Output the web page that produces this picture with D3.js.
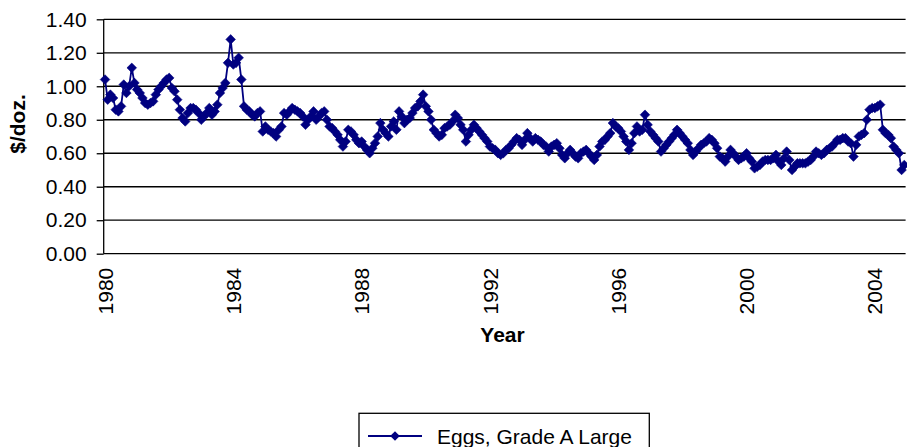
<!DOCTYPE html>
<html>
<head>
<meta charset="utf-8">
<script src="https://cdn.jsdelivr.net/npm/d3@7/dist/d3.min.js"></script>
<style>
  html, body { margin: 0; padding: 0; background: #fff; }
  svg { display: block; font-family: "Liberation Sans", Arial, sans-serif; }
</style>
</head>
<body>
<svg id="chart" width="907" height="447"></svg>
<script>
// ---- data ----
const startYear = 1980;
const endYear = 2004;
const seriesName = "Eggs, Grade A Large";
const tickLabels = ["1980", "1984", "1988", "1992", "1996", "2000", "2004"];
const yTicks = [0, 0.2, 0.4, 0.6, 0.8, 1.0, 1.2, 1.4];

// monthly average price, $/dozen, Jan 1980 - Dec 2004
const eggPrices = [
  1.04, 0.92, 0.95, 0.93, 0.86, 0.85, 0.88, 1.01, 0.96, 1.00, 1.11, 1.02, // 1980
  0.98, 0.96, 0.93, 0.90, 0.89, 0.90, 0.91, 0.95, 0.98, 1.00, 1.02, 1.04, // 1981
  1.05, 0.99, 0.97, 0.92, 0.86, 0.81, 0.79, 0.84, 0.87, 0.87, 0.86, 0.84, // 1982
  0.80, 0.82, 0.84, 0.87, 0.83, 0.85, 0.89, 0.96, 0.99, 1.02, 1.14, 1.28, // 1983
  1.13, 1.14, 1.17, 1.04, 0.88, 0.86, 0.85, 0.83, 0.82, 0.84, 0.85, 0.73, // 1984
  0.76, 0.74, 0.73, 0.72, 0.70, 0.74, 0.76, 0.84, 0.83, 0.85, 0.87, 0.86, // 1985
  0.85, 0.84, 0.82, 0.77, 0.80, 0.82, 0.85, 0.80, 0.82, 0.84, 0.85, 0.80, // 1986
  0.76, 0.75, 0.73, 0.71, 0.68, 0.64, 0.67, 0.74, 0.73, 0.71, 0.68, 0.66, // 1987
  0.67, 0.64, 0.62, 0.60, 0.63, 0.66, 0.70, 0.78, 0.74, 0.72, 0.70, 0.76, // 1988
  0.79, 0.74, 0.85, 0.82, 0.78, 0.80, 0.81, 0.84, 0.87, 0.88, 0.91, 0.95, // 1989
  0.88, 0.85, 0.80, 0.74, 0.72, 0.70, 0.71, 0.75, 0.76, 0.77, 0.79, 0.83, // 1990
  0.81, 0.77, 0.74, 0.67, 0.71, 0.74, 0.77, 0.75, 0.73, 0.71, 0.69, 0.67, // 1991
  0.64, 0.63, 0.62, 0.60, 0.59, 0.60, 0.62, 0.63, 0.65, 0.67, 0.69, 0.68, // 1992
  0.65, 0.68, 0.72, 0.69, 0.67, 0.69, 0.68, 0.67, 0.65, 0.64, 0.61, 0.64, // 1993
  0.65, 0.66, 0.63, 0.59, 0.57, 0.60, 0.62, 0.60, 0.58, 0.57, 0.60, 0.61, // 1994
  0.62, 0.60, 0.58, 0.56, 0.59, 0.64, 0.67, 0.68, 0.70, 0.72, 0.78, 0.76, // 1995
  0.75, 0.73, 0.70, 0.67, 0.62, 0.66, 0.72, 0.76, 0.73, 0.74, 0.83, 0.77, // 1996
  0.73, 0.71, 0.69, 0.67, 0.61, 0.63, 0.65, 0.67, 0.69, 0.71, 0.74, 0.72, // 1997
  0.70, 0.68, 0.66, 0.62, 0.59, 0.61, 0.63, 0.65, 0.66, 0.67, 0.69, 0.68, // 1998
  0.66, 0.63, 0.58, 0.57, 0.55, 0.58, 0.62, 0.60, 0.58, 0.56, 0.57, 0.58, // 1999
  0.60, 0.57, 0.55, 0.51, 0.52, 0.53, 0.55, 0.56, 0.56, 0.56, 0.57, 0.59, // 2000
  0.55, 0.53, 0.57, 0.61, 0.56, 0.50, 0.52, 0.54, 0.54, 0.54, 0.54, 0.55, // 2001
  0.56, 0.58, 0.61, 0.60, 0.59, 0.60, 0.62, 0.63, 0.64, 0.66, 0.68, 0.68, // 2002
  0.69, 0.69, 0.67, 0.66, 0.58, 0.65, 0.70, 0.71, 0.72, 0.80, 0.86, 0.87, // 2003
  0.87, 0.88, 0.89, 0.74, 0.72, 0.71, 0.69, 0.64, 0.62, 0.60, 0.50, 0.53  // 2004
];

// categories: one per month
const categories = [];
for (let y = startYear; y <= endYear; y++) {
  for (let m = 1; m <= 12; m++) categories.push(y + "-" + String(m).padStart(2, "0"));
}
const data = categories.map((c, i) => ({ cat: c, value: eggPrices[i] }));

// ---- layout ----
const svg = d3.select("#chart");
const plot = { left: 103.7, right: 905.6, top: 19.3, bottom: 253.7 };
const navy = "#000080";

const x = d3.scaleBand().domain(categories).range([plot.left, plot.right]).padding(0);
const y = d3.scaleLinear().domain([0, 1.4]).range([plot.bottom, plot.top]);
const cx = c => x(c) + x.bandwidth() / 2;

svg.append("rect").attr("width", 907).attr("height", 447).attr("fill", "#fff");

// gridlines
svg.append("g")
  .selectAll("line")
  .data(yTicks.filter(d => d > 0))
  .join("line")
  .attr("x1", plot.left).attr("x2", plot.right)
  .attr("y1", d => y(d)).attr("y2", d => y(d))
  .attr("stroke", "#000").attr("stroke-width", 1.3);

// y axis
const yAxis = d3.axisLeft(y).tickValues(yTicks).tickFormat(d3.format(".2f")).tickSize(7).tickPadding(10);
const gy = svg.append("g").attr("transform", `translate(${plot.left},0)`).call(yAxis);
gy.select(".domain").attr("stroke", "#000").attr("stroke-width", 1.3).attr("d", `M0,${plot.bottom}V${plot.top}`);
gy.selectAll(".tick line").attr("stroke", "#000").attr("stroke-width", 1.3);
gy.selectAll(".tick text").attr("font-size", 21).attr("fill", "#000")
  .attr("font-family", "'Liberation Sans', Arial, sans-serif");

// x axis
const labelCats = tickLabels.map(t => t + "-01");
const xAxis = d3.axisBottom(x).tickValues(labelCats).tickFormat(c => c.slice(0, 4)).tickSize(0).tickPadding(0);
const gx = svg.append("g").attr("transform", `translate(0,${plot.bottom})`).call(xAxis);
gx.select(".domain").attr("stroke", "#000").attr("stroke-width", 1.3).attr("d", `M${plot.left},0H${plot.right}`);
gx.selectAll(".tick text")
  .attr("font-size", 21).attr("fill", "#000")
  .attr("font-family", "'Liberation Sans', Arial, sans-serif")
  .attr("text-anchor", "end")
  .attr("transform", "translate(0,14) rotate(-90)")
  .attr("x", 0).attr("y", 0).attr("dy", "0.36em");

// axis titles
svg.append("text")
  .attr("transform", `translate(25,124) rotate(-90)`)
  .attr("text-anchor", "middle")
  .attr("font-size", 21).attr("font-weight", "bold")
  .text("$/doz.");
svg.append("text")
  .attr("x", 502.5).attr("y", 342)
  .attr("text-anchor", "middle")
  .attr("font-size", 21).attr("font-weight", "bold")
  .text("Year");

// series line
const line = d3.line().x(d => cx(d.cat)).y(d => y(d.value));
svg.append("path").datum(data)
  .attr("d", line).attr("fill", "none")
  .attr("stroke", navy).attr("stroke-width", 1.8);

// diamond markers
const r = 4.8;
const diamond = `M0,${-r}L${r},0L0,${r}L${-r},0Z`;
svg.append("g").selectAll("path")
  .data(data).join("path")
  .attr("d", diamond)
  .attr("transform", d => `translate(${cx(d.cat)},${y(d.value)})`)
  .attr("fill", navy).attr("stroke", navy).attr("stroke-width", 0.6);

// legend
const lg = svg.append("g");
lg.append("rect").attr("x", 359).attr("y", 413.3).attr("width", 290.3).attr("height", 40)
  .attr("fill", "#fff").attr("stroke", "#000").attr("stroke-width", 1.3);
lg.append("line").attr("x1", 368).attr("x2", 422).attr("y1", 436).attr("y2", 436)
  .attr("stroke", navy).attr("stroke-width", 1.8);
lg.append("path").attr("d", diamond).attr("transform", "translate(395,436)").attr("fill", navy);
lg.append("text").attr("x", 437).attr("y", 443.5)
  .attr("font-size", 21).text(seriesName);
</script>
</body>
</html>
